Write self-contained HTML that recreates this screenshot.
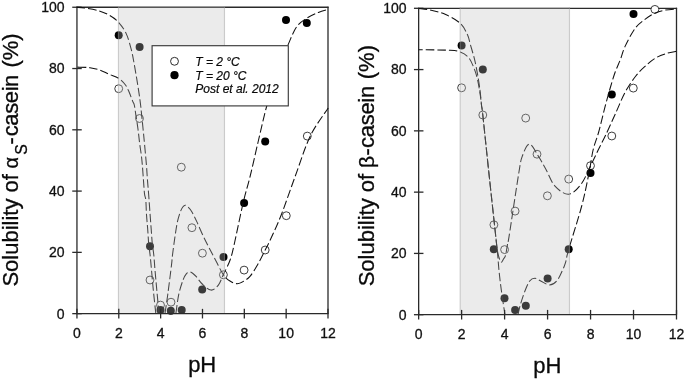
<!DOCTYPE html>
<html><head><meta charset="utf-8"><title>Solubility</title>
<style>
html,body{margin:0;padding:0;background:#fff;}
svg{display:block;font-family:"Liberation Sans",sans-serif;will-change:transform;}
</style></head>
<body>
<svg width="685" height="379" viewBox="0 0 685 379">
<rect width="685" height="379" fill="#fff"/>
<path d="M76.35000000000001,7.25 H328.6" fill="none" stroke="#2a2a2a" stroke-width="1.3"/>
<path d="M328.0,6.65 V313.65" fill="none" stroke="#2a2a2a" stroke-width="1.3"/>
<path d="M76.95,6.65 V313.65" fill="none" stroke="#2a2a2a" stroke-width="1.3"/>
<text x="76.95" y="338.3" text-anchor="middle" font-size="14" fill="#111" stroke="#111" stroke-width="0.3">0</text>
<text x="118.79" y="338.3" text-anchor="middle" font-size="14" fill="#111" stroke="#111" stroke-width="0.3">2</text>
<text x="160.63" y="338.3" text-anchor="middle" font-size="14" fill="#111" stroke="#111" stroke-width="0.3">4</text>
<text x="202.48" y="338.3" text-anchor="middle" font-size="14" fill="#111" stroke="#111" stroke-width="0.3">6</text>
<text x="244.32" y="338.3" text-anchor="middle" font-size="14" fill="#111" stroke="#111" stroke-width="0.3">8</text>
<text x="286.16" y="338.3" text-anchor="middle" font-size="14" fill="#111" stroke="#111" stroke-width="0.3">10</text>
<text x="328.00" y="338.3" text-anchor="middle" font-size="14" fill="#111" stroke="#111" stroke-width="0.3">12</text>
<line x1="72.25" y1="313.65" x2="81.75" y2="313.65" stroke="#2a2a2a" stroke-width="1.3"/>
<text x="64.6" y="318.50" text-anchor="end" font-size="14" fill="#111" stroke="#111" stroke-width="0.3">0</text>
<line x1="72.25" y1="252.37" x2="81.75" y2="252.37" stroke="#2a2a2a" stroke-width="1.3"/>
<text x="64.6" y="257.22" text-anchor="end" font-size="14" fill="#111" stroke="#111" stroke-width="0.3">20</text>
<line x1="72.25" y1="191.09" x2="81.75" y2="191.09" stroke="#2a2a2a" stroke-width="1.3"/>
<text x="64.6" y="195.94" text-anchor="end" font-size="14" fill="#111" stroke="#111" stroke-width="0.3">40</text>
<line x1="72.25" y1="129.81" x2="81.75" y2="129.81" stroke="#2a2a2a" stroke-width="1.3"/>
<text x="64.6" y="134.66" text-anchor="end" font-size="14" fill="#111" stroke="#111" stroke-width="0.3">60</text>
<line x1="72.25" y1="68.53" x2="81.75" y2="68.53" stroke="#2a2a2a" stroke-width="1.3"/>
<text x="64.6" y="73.38" text-anchor="end" font-size="14" fill="#111" stroke="#111" stroke-width="0.3">80</text>
<line x1="72.25" y1="7.25" x2="81.75" y2="7.25" stroke="#2a2a2a" stroke-width="1.3"/>
<text x="64.6" y="12.10" text-anchor="end" font-size="14" fill="#111" stroke="#111" stroke-width="0.3">100</text>
<circle cx="118.7" cy="88.7" r="3.95" fill="#fff" stroke="#333" stroke-width="0.95"/>
<circle cx="139.5" cy="118.5" r="3.95" fill="#fff" stroke="#333" stroke-width="0.95"/>
<circle cx="150" cy="280" r="3.95" fill="#fff" stroke="#333" stroke-width="0.95"/>
<circle cx="160.5" cy="305.1" r="3.95" fill="#fff" stroke="#333" stroke-width="0.95"/>
<circle cx="171" cy="302.2" r="3.95" fill="#fff" stroke="#333" stroke-width="0.95"/>
<circle cx="181.3" cy="167.2" r="3.95" fill="#fff" stroke="#333" stroke-width="0.95"/>
<circle cx="191.9" cy="227.7" r="3.95" fill="#fff" stroke="#333" stroke-width="0.95"/>
<circle cx="202.4" cy="253.2" r="3.95" fill="#fff" stroke="#333" stroke-width="0.95"/>
<circle cx="223.4" cy="274.8" r="3.95" fill="#fff" stroke="#333" stroke-width="0.95"/>
<circle cx="244.1" cy="270.1" r="3.95" fill="#fff" stroke="#333" stroke-width="0.95"/>
<circle cx="265.2" cy="250" r="3.95" fill="#fff" stroke="#333" stroke-width="0.95"/>
<circle cx="286.3" cy="215.7" r="3.95" fill="#fff" stroke="#333" stroke-width="0.95"/>
<circle cx="307.3" cy="136.1" r="3.95" fill="#fff" stroke="#333" stroke-width="0.95"/>
<circle cx="118.7" cy="35.3" r="4.0" fill="#000"/>
<circle cx="139.6" cy="47.0" r="4.0" fill="#000"/>
<circle cx="150.0" cy="246.3" r="4.0" fill="#000"/>
<circle cx="160.5" cy="310" r="4.0" fill="#000"/>
<circle cx="170.8" cy="310.7" r="4.0" fill="#000"/>
<circle cx="181.7" cy="310" r="4.0" fill="#000"/>
<circle cx="202.2" cy="289.5" r="4.0" fill="#000"/>
<circle cx="223.5" cy="257" r="4.0" fill="#000"/>
<circle cx="244.1" cy="203.1" r="4.0" fill="#000"/>
<circle cx="265.2" cy="141.5" r="4.0" fill="#000"/>
<circle cx="286" cy="20" r="4.0" fill="#000"/>
<circle cx="306.8" cy="23" r="4.0" fill="#000"/>
<path d="M76.60,7.30 C77.93,7.42 80.83,7.40 84.60,8.00 C88.37,8.60 95.07,9.68 99.20,10.90 C103.33,12.12 106.23,13.47 109.40,15.30 C112.57,17.13 115.40,18.85 118.20,21.90 C121.00,24.95 124.00,28.92 126.20,33.60 C128.40,38.28 130.05,44.83 131.40,50.00 C132.75,55.17 133.40,59.73 134.30,64.60 C135.20,69.47 136.00,74.33 136.80,79.20 C137.60,84.07 138.47,89.50 139.10,93.80 C139.73,98.10 140.18,101.53 140.60,105.00 C141.02,108.47 141.18,110.57 141.60,114.60 C142.02,118.63 142.62,124.33 143.10,129.20 C143.58,134.07 143.95,137.90 144.50,143.80 C145.05,149.70 145.92,158.70 146.40,164.60 C146.88,170.50 147.03,174.33 147.40,179.20 C147.77,184.07 148.15,187.90 148.60,193.80 C149.05,199.70 149.67,208.70 150.10,214.60 C150.53,220.50 150.83,224.33 151.20,229.20 C151.57,234.07 151.87,239.50 152.30,243.80 C152.73,248.10 153.35,250.63 153.80,255.00 C154.25,259.37 154.50,264.17 155.00,270.00 C155.50,275.83 156.13,282.77 156.80,290.00 C157.47,297.23 158.63,309.50 159.00,313.40" fill="none" stroke="#111" stroke-width="1.05" stroke-dasharray="8.5 3" stroke-dashoffset="0"/>
<path d="M175.90,313.40 C176.38,310.20 177.58,299.83 178.80,294.20 C180.02,288.57 181.95,282.98 183.20,279.60 C184.45,276.22 185.22,275.17 186.30,273.90 C187.38,272.63 188.55,272.03 189.70,272.00 C190.85,271.97 192.10,272.92 193.20,273.70 C194.30,274.48 194.80,274.98 196.30,276.70 C197.80,278.42 199.77,281.77 202.20,284.00 C204.63,286.23 208.23,289.87 210.90,290.10 C213.57,290.33 216.13,287.95 218.20,285.40 C220.27,282.85 221.32,279.03 223.30,274.80 C225.28,270.57 228.23,265.30 230.10,260.00 C231.97,254.70 232.33,252.50 234.50,243.00 C236.67,233.50 240.48,214.17 243.10,203.00 C245.72,191.83 247.68,186.25 250.20,176.00 C252.72,165.75 255.53,152.83 258.20,141.50 C260.87,130.17 263.73,117.25 266.20,108.00 C268.67,98.75 270.70,93.17 273.00,86.00 C275.30,78.83 277.55,71.72 280.00,65.00 C282.45,58.28 284.95,52.03 287.70,45.70 C290.45,39.37 293.33,31.58 296.50,27.00 C299.67,22.42 303.05,20.63 306.70,18.20 C310.35,15.77 314.82,13.85 318.40,12.40 C321.98,10.95 326.57,9.98 328.20,9.50" fill="none" stroke="#111" stroke-width="1.05" stroke-dasharray="8.5 3" stroke-dashoffset="0"/>
<path d="M76.60,67.10 C78.83,67.20 86.10,67.18 90.00,67.70 C93.90,68.22 96.87,69.13 100.00,70.20 C103.13,71.27 105.63,72.72 108.80,74.10 C111.97,75.48 116.22,76.68 119.00,78.50 C121.78,80.32 123.80,82.70 125.50,85.00 C127.20,87.30 128.02,89.62 129.20,92.30 C130.38,94.98 131.75,98.98 132.60,101.10 C133.45,103.22 133.77,102.75 134.30,105.00 C134.83,107.25 135.18,110.57 135.80,114.60 C136.42,118.63 137.35,124.33 138.00,129.20 C138.65,134.07 139.15,139.50 139.70,143.80 C140.25,148.10 140.87,151.53 141.30,155.00 C141.73,158.47 141.95,160.57 142.30,164.60 C142.65,168.63 143.03,174.33 143.40,179.20 C143.77,184.07 144.10,190.33 144.50,193.80 C144.90,197.27 145.47,196.53 145.80,200.00 C146.13,203.47 146.18,209.73 146.50,214.60 C146.82,219.47 147.33,224.33 147.70,229.20 C148.07,234.07 148.30,239.50 148.70,243.80 C149.10,248.10 149.63,250.63 150.10,255.00 C150.57,259.37 150.97,264.17 151.50,270.00 C152.03,275.83 152.58,282.77 153.30,290.00 C154.02,297.23 155.38,309.50 155.80,313.40" fill="none" stroke="#111" stroke-width="1.05" stroke-dasharray="8.5 3" stroke-dashoffset="10.5"/>
<path d="M165.00,313.40 C165.47,310.20 166.72,302.27 167.80,294.20 C168.88,286.13 170.72,271.53 171.50,265.00 C172.28,258.47 171.92,259.75 172.50,255.00 C173.08,250.25 174.18,242.02 175.00,236.50 C175.82,230.98 176.50,226.03 177.40,221.90 C178.30,217.77 179.50,214.18 180.40,211.70 C181.30,209.22 182.00,208.08 182.80,207.00 C183.60,205.92 184.33,205.20 185.20,205.20 C186.07,205.20 186.90,205.92 188.00,207.00 C189.10,208.08 190.32,209.22 191.80,211.70 C193.28,214.18 194.97,217.77 196.90,221.90 C198.83,226.03 201.33,232.12 203.40,236.50 C205.47,240.88 207.20,244.12 209.30,248.20 C211.40,252.28 213.65,256.57 216.00,261.00 C218.35,265.43 221.07,271.47 223.40,274.80 C225.73,278.13 227.72,279.52 230.00,281.00 C232.28,282.48 234.77,283.70 237.10,283.70 C239.43,283.70 241.82,282.27 244.00,281.00 C246.18,279.73 247.87,278.93 250.20,276.10 C252.53,273.27 255.50,268.35 258.00,264.00 C260.50,259.65 263.17,254.00 265.20,250.00 C267.23,246.00 267.53,245.83 270.20,240.00 C272.87,234.17 277.02,225.67 281.20,215.00 C285.38,204.33 290.45,189.17 295.30,176.00 C300.15,162.83 304.82,147.33 310.30,136.00 C315.78,124.67 325.22,112.67 328.20,108.00" fill="none" stroke="#111" stroke-width="1.05" stroke-dasharray="8.5 3" stroke-dashoffset="0"/>
<rect x="117.9" y="6.25" width="107.20" height="306.70" fill="rgb(190,190,190)" fill-opacity="0.31"/>
<line x1="118.45" y1="6.25" x2="118.45" y2="312.95" stroke="#999" stroke-opacity="0.38" stroke-width="1.1"/>
<line x1="224.45" y1="6.25" x2="224.45" y2="312.95" stroke="#999" stroke-opacity="0.38" stroke-width="1.1"/>
<line x1="117.9" y1="6.55" x2="225.1" y2="6.55" stroke="#999" stroke-opacity="0.3" stroke-width="0.8"/>
<path d="M76.35000000000001,313.65 H328.5" fill="none" stroke="#2a2a2a" stroke-width="1.3"/>
<line x1="76.95" y1="308.84999999999997" x2="76.95" y2="318.45" stroke="#2a2a2a" stroke-width="1.3"/>
<line x1="118.79" y1="308.84999999999997" x2="118.79" y2="318.45" stroke="#2a2a2a" stroke-width="1.3"/>
<line x1="160.63" y1="308.84999999999997" x2="160.63" y2="318.45" stroke="#2a2a2a" stroke-width="1.3"/>
<line x1="202.48" y1="308.84999999999997" x2="202.48" y2="318.45" stroke="#2a2a2a" stroke-width="1.3"/>
<line x1="244.32" y1="308.84999999999997" x2="244.32" y2="318.45" stroke="#2a2a2a" stroke-width="1.3"/>
<line x1="286.16" y1="308.84999999999997" x2="286.16" y2="318.45" stroke="#2a2a2a" stroke-width="1.3"/>
<line x1="328.00" y1="308.84999999999997" x2="328.00" y2="318.45" stroke="#2a2a2a" stroke-width="1.3"/>
<text transform="translate(18.2,160.0) rotate(-90)" text-anchor="middle" font-size="22" fill="#0a0a0a" stroke="#0a0a0a" stroke-width="0.3">Solubility of <tspan dx="-0.5" font-size="20">α</tspan><tspan font-size="15.8" dy="8.5" dx="2.1">S</tspan><tspan dy="-8.5" dx="-0.3">-</tspan><tspan letter-spacing="-0.4" dx="1.0">casein</tspan><tspan dx="1.3"> (%)</tspan></text>
<text x="202.2" y="372.2" text-anchor="middle" font-size="22" fill="#0a0a0a" stroke="#0a0a0a" stroke-width="0.3">pH</text>

<rect x="152.1" y="45.7" width="136.2" height="60.2" fill="#fff" stroke="#3a3a3a" stroke-width="1.15"/>
<circle cx="174.5" cy="61.3" r="3.95" fill="#fff" stroke="#222" stroke-width="0.95"/>
<circle cx="174.5" cy="75.2" r="4.1" fill="#000"/>
<g font-size="12" font-style="italic" fill="#0a0a0a" stroke="#0a0a0a" stroke-width="0.22">
<text x="195.3" y="65.5">T = 2 °C</text>
<text x="195.3" y="79.5">T = 20 °C</text>
<text x="195.3" y="93.4">Post et al. 2012</text>
</g>

<path d="M418.04999999999995,8.3 H677.1" fill="none" stroke="#2a2a2a" stroke-width="1.3"/>
<path d="M676.5,7.700000000000001 V314.7" fill="none" stroke="#2a2a2a" stroke-width="1.3"/>
<path d="M418.65,7.700000000000001 V314.7" fill="none" stroke="#2a2a2a" stroke-width="1.3"/>
<text x="418.65" y="339.1" text-anchor="middle" font-size="14" fill="#111" stroke="#111" stroke-width="0.3">0</text>
<text x="461.62" y="339.1" text-anchor="middle" font-size="14" fill="#111" stroke="#111" stroke-width="0.3">2</text>
<text x="504.60" y="339.1" text-anchor="middle" font-size="14" fill="#111" stroke="#111" stroke-width="0.3">4</text>
<text x="547.58" y="339.1" text-anchor="middle" font-size="14" fill="#111" stroke="#111" stroke-width="0.3">6</text>
<text x="590.55" y="339.1" text-anchor="middle" font-size="14" fill="#111" stroke="#111" stroke-width="0.3">8</text>
<text x="633.52" y="339.1" text-anchor="middle" font-size="14" fill="#111" stroke="#111" stroke-width="0.3">10</text>
<text x="676.50" y="339.1" text-anchor="middle" font-size="14" fill="#111" stroke="#111" stroke-width="0.3">12</text>
<line x1="413.95" y1="314.70" x2="423.45" y2="314.70" stroke="#2a2a2a" stroke-width="1.3"/>
<text x="406.5" y="319.55" text-anchor="end" font-size="14" fill="#111" stroke="#111" stroke-width="0.3">0</text>
<line x1="413.95" y1="253.42" x2="423.45" y2="253.42" stroke="#2a2a2a" stroke-width="1.3"/>
<text x="406.5" y="258.27" text-anchor="end" font-size="14" fill="#111" stroke="#111" stroke-width="0.3">20</text>
<line x1="413.95" y1="192.14" x2="423.45" y2="192.14" stroke="#2a2a2a" stroke-width="1.3"/>
<text x="406.5" y="196.99" text-anchor="end" font-size="14" fill="#111" stroke="#111" stroke-width="0.3">40</text>
<line x1="413.95" y1="130.86" x2="423.45" y2="130.86" stroke="#2a2a2a" stroke-width="1.3"/>
<text x="406.5" y="135.71" text-anchor="end" font-size="14" fill="#111" stroke="#111" stroke-width="0.3">60</text>
<line x1="413.95" y1="69.58" x2="423.45" y2="69.58" stroke="#2a2a2a" stroke-width="1.3"/>
<text x="406.5" y="74.43" text-anchor="end" font-size="14" fill="#111" stroke="#111" stroke-width="0.3">80</text>
<line x1="413.95" y1="8.30" x2="423.45" y2="8.30" stroke="#2a2a2a" stroke-width="1.3"/>
<text x="406.5" y="13.15" text-anchor="end" font-size="14" fill="#111" stroke="#111" stroke-width="0.3">100</text>
<circle cx="461.6" cy="87.8" r="3.95" fill="#fff" stroke="#333" stroke-width="0.95"/>
<circle cx="482.8" cy="115" r="3.95" fill="#fff" stroke="#333" stroke-width="0.95"/>
<circle cx="493.9" cy="224.8" r="3.95" fill="#fff" stroke="#333" stroke-width="0.95"/>
<circle cx="504.6" cy="249.6" r="3.95" fill="#fff" stroke="#333" stroke-width="0.95"/>
<circle cx="515.1" cy="211.1" r="3.95" fill="#fff" stroke="#333" stroke-width="0.95"/>
<circle cx="525.7" cy="118.1" r="3.95" fill="#fff" stroke="#333" stroke-width="0.95"/>
<circle cx="537" cy="154.2" r="3.95" fill="#fff" stroke="#333" stroke-width="0.95"/>
<circle cx="547.4" cy="195.8" r="3.95" fill="#fff" stroke="#333" stroke-width="0.95"/>
<circle cx="568.7" cy="179.1" r="3.95" fill="#fff" stroke="#333" stroke-width="0.95"/>
<circle cx="590.5" cy="165.7" r="3.95" fill="#fff" stroke="#333" stroke-width="0.95"/>
<circle cx="611.8" cy="136" r="3.95" fill="#fff" stroke="#333" stroke-width="0.95"/>
<circle cx="633.3" cy="88.1" r="3.95" fill="#fff" stroke="#333" stroke-width="0.95"/>
<circle cx="654.9" cy="9.4" r="3.95" fill="#fff" stroke="#333" stroke-width="0.95"/>
<circle cx="461.6" cy="45.6" r="4.0" fill="#000"/>
<circle cx="482.8" cy="69.5" r="4.0" fill="#000"/>
<circle cx="493.8" cy="249.3" r="4.0" fill="#000"/>
<circle cx="504.5" cy="298.2" r="4.0" fill="#000"/>
<circle cx="515.1" cy="310.1" r="4.0" fill="#000"/>
<circle cx="525.8" cy="305.8" r="4.0" fill="#000"/>
<circle cx="547.6" cy="278.5" r="4.0" fill="#000"/>
<circle cx="568.7" cy="249.3" r="4.0" fill="#000"/>
<circle cx="590.5" cy="173.1" r="4.0" fill="#000"/>
<circle cx="611.8" cy="94.5" r="4.0" fill="#000"/>
<circle cx="633.5" cy="14" r="4.0" fill="#000"/>
<path d="M418.70,8.50 C420.77,8.78 426.60,9.18 431.10,10.20 C435.60,11.22 440.83,12.40 445.70,14.60 C450.57,16.80 456.65,20.00 460.30,23.40 C463.95,26.80 465.95,31.57 467.60,35.00 C469.25,38.43 469.23,40.67 470.20,44.00 C471.17,47.33 472.57,51.98 473.40,55.00 C474.23,58.02 474.40,58.27 475.20,62.10 C476.00,65.93 477.37,73.02 478.20,78.00 C479.03,82.98 479.63,87.33 480.20,92.00 C480.77,96.67 481.17,102.17 481.60,106.00 C482.03,109.83 481.57,103.67 482.80,115.00 C484.03,126.33 486.87,154.00 489.00,174.00 C491.13,194.00 494.17,221.67 495.60,235.00 C497.03,248.33 497.02,247.92 497.60,254.00 C498.18,260.08 498.48,265.50 499.10,271.50 C499.72,277.50 500.33,282.85 501.30,290.00 C502.27,297.15 504.30,310.33 504.90,314.40" fill="none" stroke="#111" stroke-width="1.05" stroke-dasharray="8.5 3" stroke-dashoffset="0"/>
<path d="M518.00,314.40 C518.38,312.83 519.20,308.75 520.30,305.00 C521.40,301.25 523.03,295.90 524.60,291.90 C526.17,287.90 527.98,283.27 529.70,281.00 C531.42,278.73 533.07,278.30 534.90,278.30 C536.73,278.30 538.27,279.88 540.70,281.00 C543.13,282.12 546.82,285.00 549.50,285.00 C552.18,285.00 554.62,283.50 556.80,281.00 C558.98,278.50 561.15,273.05 562.60,270.00 C564.05,266.95 564.48,266.15 565.50,262.70 C566.52,259.25 566.00,258.75 568.70,249.30 C571.40,239.85 578.32,218.72 581.70,206.00 C585.08,193.28 587.10,182.33 589.00,173.00 C590.90,163.67 591.48,156.83 593.10,150.00 C594.72,143.17 596.68,139.32 598.70,132.00 C600.72,124.68 603.28,113.43 605.20,106.10 C607.12,98.77 608.53,93.68 610.20,88.00 C611.87,82.32 613.53,76.67 615.20,72.00 C616.87,67.33 618.53,64.32 620.20,60.00 C621.87,55.68 622.68,51.42 625.20,46.10 C627.72,40.78 631.95,32.60 635.30,28.10 C638.65,23.60 641.97,21.62 645.30,19.10 C648.63,16.58 651.95,14.52 655.30,13.00 C658.65,11.48 661.88,10.67 665.40,10.00 C668.92,9.33 674.57,9.17 676.40,9.00" fill="none" stroke="#111" stroke-width="1.05" stroke-dasharray="8.5 3" stroke-dashoffset="0"/>
<path d="M418.70,49.70 C423.92,49.80 443.08,49.90 450.00,50.30 C456.92,50.70 457.17,50.97 460.20,52.10 C463.23,53.23 466.03,54.77 468.20,57.10 C470.37,59.43 471.70,62.60 473.20,66.10 C474.70,69.60 476.05,73.45 477.20,78.10 C478.35,82.75 479.37,89.35 480.10,94.00 C480.83,98.65 481.15,102.50 481.60,106.00 C482.05,109.50 481.57,103.67 482.80,115.00 C484.03,126.33 486.87,154.00 489.00,174.00 C491.13,194.00 494.22,222.33 495.60,235.00 C496.98,247.67 496.68,246.08 497.30,250.00 C497.92,253.92 498.63,256.45 499.30,258.50 C499.97,260.55 500.60,262.22 501.30,262.30 C502.00,262.38 502.80,260.13 503.50,259.00 C504.20,257.87 504.83,257.93 505.50,255.50 C506.17,253.07 506.92,247.52 507.50,244.40 C508.08,241.28 507.12,248.70 509.00,236.80 C510.88,224.90 516.58,186.43 518.80,173.00 C521.02,159.57 520.53,161.02 522.30,156.20 C524.07,151.38 526.72,144.10 529.40,144.10 C532.08,144.10 535.63,151.97 538.40,156.20 C541.17,160.43 543.23,164.50 546.00,169.50 C548.77,174.50 551.22,182.08 555.00,186.20 C558.78,190.32 564.35,194.53 568.70,194.20 C573.05,193.87 577.47,188.90 581.10,184.20 C584.73,179.50 587.65,171.70 590.50,166.00 C593.35,160.30 595.67,155.17 598.20,150.00 C600.73,144.83 602.87,140.97 605.70,135.00 C608.53,129.03 611.95,121.35 615.20,114.20 C618.45,107.05 621.77,98.47 625.20,92.10 C628.63,85.73 632.45,80.33 635.80,76.00 C639.15,71.67 642.05,69.07 645.30,66.10 C648.55,63.13 651.95,60.25 655.30,58.20 C658.65,56.15 661.88,54.97 665.40,53.80 C668.92,52.63 674.57,51.63 676.40,51.20" fill="none" stroke="#111" stroke-width="1.05" stroke-dasharray="8.5 3" stroke-dashoffset="4.4"/>
<rect x="459.7" y="7.300000000000001" width="110.40" height="306.70" fill="rgb(190,190,190)" fill-opacity="0.31"/>
<line x1="460.25" y1="7.300000000000001" x2="460.25" y2="314.0" stroke="#999" stroke-opacity="0.38" stroke-width="1.1"/>
<line x1="569.45" y1="7.300000000000001" x2="569.45" y2="314.0" stroke="#999" stroke-opacity="0.38" stroke-width="1.1"/>
<line x1="459.7" y1="7.6000000000000005" x2="570.1" y2="7.6000000000000005" stroke="#999" stroke-opacity="0.3" stroke-width="0.8"/>
<path d="M418.04999999999995,314.7 H677.0" fill="none" stroke="#2a2a2a" stroke-width="1.3"/>
<line x1="418.65" y1="309.9" x2="418.65" y2="319.5" stroke="#2a2a2a" stroke-width="1.3"/>
<line x1="461.62" y1="309.9" x2="461.62" y2="319.5" stroke="#2a2a2a" stroke-width="1.3"/>
<line x1="504.60" y1="309.9" x2="504.60" y2="319.5" stroke="#2a2a2a" stroke-width="1.3"/>
<line x1="547.58" y1="309.9" x2="547.58" y2="319.5" stroke="#2a2a2a" stroke-width="1.3"/>
<line x1="590.55" y1="309.9" x2="590.55" y2="319.5" stroke="#2a2a2a" stroke-width="1.3"/>
<line x1="633.52" y1="309.9" x2="633.52" y2="319.5" stroke="#2a2a2a" stroke-width="1.3"/>
<line x1="676.50" y1="309.9" x2="676.50" y2="319.5" stroke="#2a2a2a" stroke-width="1.3"/>
<text transform="translate(374.1,165.7) rotate(-90)" text-anchor="middle" font-size="22" fill="#0a0a0a" stroke="#0a0a0a" stroke-width="0.3">Solubility of <tspan font-size="21" dx="-0.3">β</tspan><tspan dx="0.4">-</tspan><tspan letter-spacing="-0.3" dx="0.3">casein</tspan><tspan dx="0.8"> (%)</tspan></text>
<text x="547.4" y="373.0" text-anchor="middle" font-size="22" fill="#0a0a0a" stroke="#0a0a0a" stroke-width="0.3">pH</text>
</svg>
</body></html>
